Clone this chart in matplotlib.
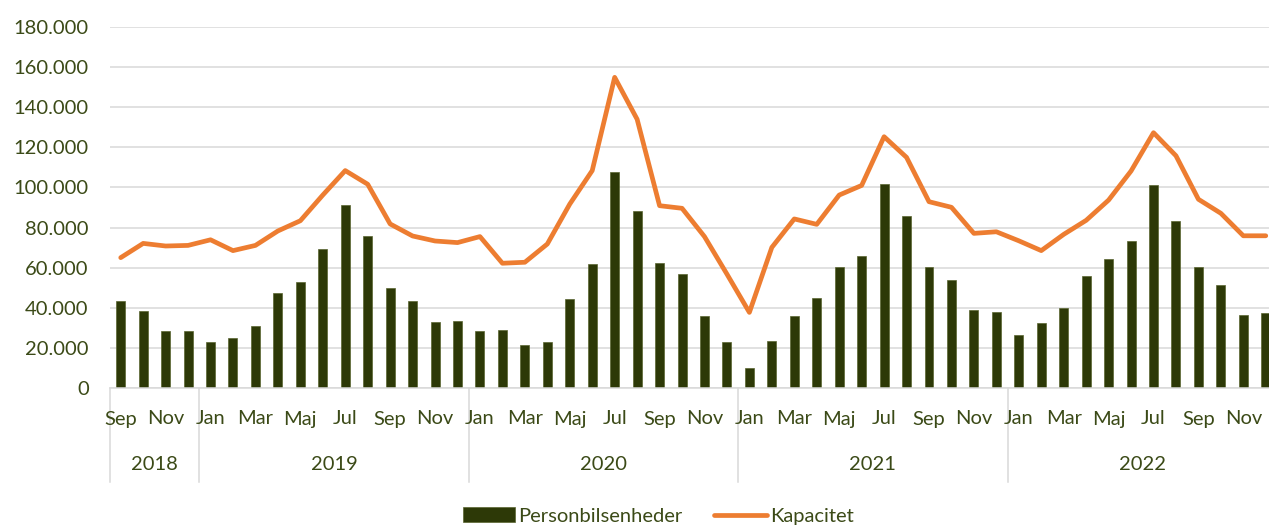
import matplotlib
matplotlib.use("Agg")
import matplotlib.pyplot as plt
import matplotlib.transforms as mtransforms
from matplotlib.lines import Line2D
from matplotlib.ticker import FuncFormatter
import numpy as np

plt.rcParams['font.family'] = ['Lato', 'DejaVu Sans']

# ---- data ----
month_labels = ["Sep", "Okt", "Nov", "Dec",
                "Jan", "Feb", "Mar", "Apr", "Maj", "Jun", "Jul", "Aug", "Sep", "Okt", "Nov", "Dec",
                "Jan", "Feb", "Mar", "Apr", "Maj", "Jun", "Jul", "Aug", "Sep", "Okt", "Nov", "Dec",
                "Jan", "Feb", "Mar", "Apr", "Maj", "Jun", "Jul", "Aug", "Sep", "Okt", "Nov", "Dec",
                "Jan", "Feb", "Mar", "Apr", "Maj", "Jun", "Jul", "Aug", "Sep", "Okt", "Nov", "Dec"]
years = ["2018", "2019", "2020", "2021", "2022"]
months_per_year = [4, 12, 12, 12, 12]

personbilsenheder = [43400, 38400, 28600, 28600,
                     22800, 24800, 30800, 47200, 52800, 69300, 91100, 75800, 49900, 43500, 33100, 33200,
                     28300, 28800, 21400, 22900, 44400, 61700, 107500, 88300, 62500, 57000, 35900, 23100,
                     9800, 23600, 36100, 44900, 60200, 66000, 101900, 85600, 60200, 54000, 38900, 38100,
                     26400, 32400, 39900, 55700, 64500, 73300, 101100, 83100, 60200, 51200, 36600, 37400]
kapacitet = [65000, 72100, 70800, 71100,
             73900, 68500, 71100, 78300, 83400, 96200, 108400, 101600, 81800, 75800, 73300, 72500,
             75500, 62200, 62700, 71800, 91700, 108400, 154900, 134000, 90900, 89600, 75500, 56800,
             37700, 70100, 84300, 81600, 96200, 101000, 125300, 115000, 92900, 90100, 77100, 77900,
             73400, 68500, 76600, 83600, 93700, 108200, 127300, 115800, 94100, 87100, 75900, 75900]

bar_color = "#2D3907"
line_color = "#ED7D31"
text_color = "#3B4A17"
grid_color = "#D9D9D9"
FS = 14.5

W, H = 1269, 527
fig = plt.figure(figsize=(W / 100, H / 100), dpi=100)
ax = fig.add_axes([109.5 / W, (H - 388) / H, (1277 - 109.5) / W, (388 - 27) / H])

x = np.arange(len(personbilsenheder))
bars = ax.bar(x, personbilsenheder, width=0.4, color=bar_color, edgecolor="#5A6530",
              linewidth=0.5, label="Personbilsenheder", zorder=2)
line, = ax.plot(x, kapacitet, color=line_color, linewidth=3.4, label="Kapacitet",
                solid_joinstyle="round", solid_capstyle="round", zorder=3)

ax.set_xlim(-0.5, len(x) - 0.5)
ax.set_ylim(0, 180000)
ax.set_yticks(np.arange(0, 180001, 20000))
ax.yaxis.set_major_formatter(FuncFormatter(lambda v, p: f"{int(v):,}".replace(",", ".")))
ax.grid(axis="y", color=grid_color, linewidth=1.1, zorder=0)
ax.set_axisbelow(True)
for s in ["top", "right", "left"]:
    ax.spines[s].set_visible(False)
ax.spines["bottom"].set_color(grid_color)
ax.spines["bottom"].set_linewidth(1.1)
ax.tick_params(axis="y", length=0, pad=15, labelsize=FS, labelcolor=text_color)
ax.tick_params(axis="x", length=0, labelbottom=False)

blend = mtransforms.blended_transform_factory(ax.transData, ax.transAxes)
px = 1.0 / (388 - 27)  # one pixel in axes fraction
for i, lab in enumerate(month_labels):
    if i % 2 == 0:
        ax.text(i, -31 * px, lab, transform=blend, ha="center", va="center",
                fontsize=FS, color=text_color, clip_on=False)

start = 0
boundaries = [0]
for yr, n in zip(years, months_per_year):
    center = start + n / 2 - 0.5
    ax.text(center, -77 * px, yr, transform=blend, ha="center", va="center",
            fontsize=FS, color=text_color, clip_on=False)
    start += n
    boundaries.append(start)
for b in boundaries:
    ax.add_line(Line2D([b - 0.5, b - 0.5], [0, -94 * px], transform=blend,
                       color=grid_color, linewidth=1.1, clip_on=False))

leg = fig.legend([bars, line], ["Personbilsenheder", "Kapacitet"], loc="center",
                 bbox_to_anchor=(658 / W, (H - 516) / H), ncol=2,
                 frameon=False, fontsize=FS, handlelength=2.6, handleheight=0.7,
                 columnspacing=1.6, handletextpad=0.15)
for t in leg.get_texts():
    t.set_color(text_color)

fig.savefig("out.png", dpi=100)
